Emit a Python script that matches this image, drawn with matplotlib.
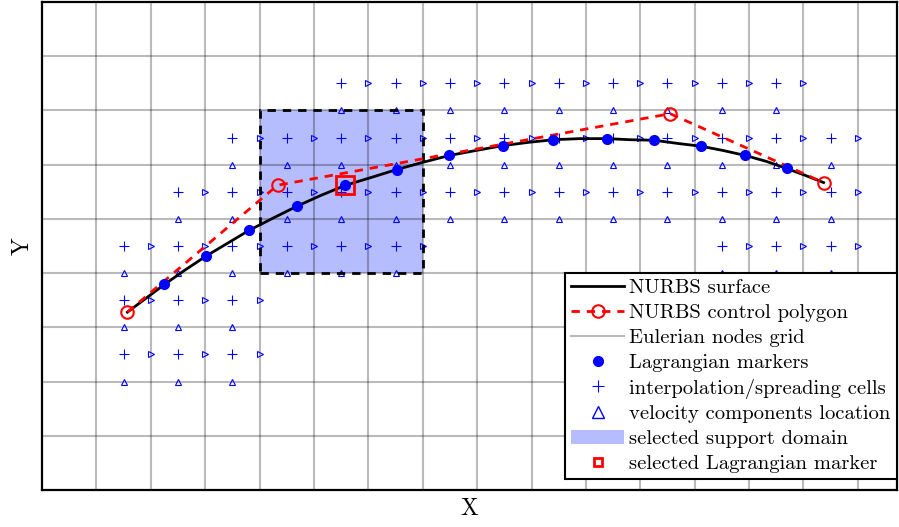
import matplotlib
matplotlib.use('Agg')
import matplotlib.pyplot as plt
from matplotlib.patches import Rectangle
from matplotlib.lines import Line2D
from matplotlib.patches import Patch

plt.rcParams['font.family'] = ['cmr10', 'DejaVu Serif']
plt.rcParams['axes.formatter.use_mathtext'] = True

# NURBS curve (grid units, one cell = 1)
curve_x = [1.57, 2.25, 2.62, 3.01, 3.41, 3.81, 4.24, 4.68, 5.12, 5.58, 6.04, 6.52,
           6.99, 7.49, 7.97, 8.47, 8.93, 9.40, 9.88, 10.38, 10.82, 11.26, 11.70,
           12.12, 12.53, 12.93, 13.32, 13.69, 14.04, 14.37]
curve_y = [3.28, 3.79, 4.05, 4.31, 4.55, 4.79, 5.01, 5.23, 5.43, 5.62, 5.76, 5.91,
           6.04, 6.17, 6.26, 6.35, 6.41, 6.46, 6.48, 6.48, 6.46, 6.45, 6.39,
           6.34, 6.26, 6.17, 6.06, 5.93, 5.80, 5.67]

# control polygon
ctrl_x = [1.57, 4.33, 11.55, 14.37]
ctrl_y = [3.28, 5.62, 6.94, 5.67]

# Lagrangian markers
lag_x = [2.25, 3.01, 3.81, 4.68, 5.58, 6.52, 7.49, 8.47, 9.40, 10.38, 11.26, 12.12, 12.93, 13.69]
lag_y = [3.79, 4.31, 4.79, 5.23, 5.62, 5.91, 6.17, 6.35, 6.46, 6.48, 6.45, 6.34, 6.17, 5.93]
selected = 4

# interpolation/spreading cells: row index -> column indices
cell_rows = {
    7: list(range(5, 14)),
    6: list(range(3, 15)),
    5: list(range(2, 15)),
    4: list(range(1, 7)) + list(range(12, 15)),
    3: list(range(1, 4)),
    2: list(range(1, 4)),
}

# support domain (lower-left cell corner, size in cells)
support = (4, 4, 3, 3)

nx, ny = 15.72, 9

# cell centres, u faces (right) and v faces (bottom)
plus_x, plus_y, u_x, u_y, v_x, v_y = [], [], [], [], [], []
for j, cols in cell_rows.items():
    for i in cols:
        plus_x.append(i + 0.5); plus_y.append(j + 0.5)
        u_x.append(i + 1);      u_y.append(j + 0.5)
        v_x.append(i + 0.5);    v_y.append(j)

fig = plt.figure(figsize=(8.99, 5.27), dpi=100)
ax = fig.add_axes([42 / 899, 37 / 527, 855 / 899, 488 / 527])

ax.set_xlim(0, nx)
ax.set_ylim(0, ny)
ax.set_xticks(range(1, 16))
ax.set_yticks(range(1, 9))
ax.tick_params(length=0, labelbottom=False, labelleft=False)
ax.set_axisbelow('line')
ax.grid(True, color='k', alpha=0.27, lw=1.5)
for s in ax.spines.values():
    s.set_linewidth(1.6)

fill_col = (0.05, 0.15, 1, 0.3)

# support domain
ax.add_patch(Rectangle(support[:2], support[2], support[3], facecolor=fill_col,
                       edgecolor='none', zorder=1))
ax.add_patch(Rectangle(support[:2], support[2], support[3], fill=False, edgecolor='k',
                       lw=2, ls=(0, (3, 2.5)), zorder=3))

ax.plot(plus_x, plus_y, '+', color='b', ms=6.5, mew=0.8, zorder=2)
ax.plot(u_x, u_y, '>', color='b', mfc='none', ms=4, mew=0.8, zorder=2)
ax.plot(v_x, v_y, '^', color='b', mfc='none', ms=4, mew=0.8, zorder=2)

ax.plot(curve_x, curve_y, '-', color='k', lw=2, zorder=4)
ax.plot(ctrl_x, ctrl_y, '--', color='r', lw=2, dashes=(3, 2.5), marker='o', ms=9,
        mfc='none', mew=1.5, zorder=5)
ax.plot(lag_x, lag_y, 'o', color='b', ms=7, zorder=6)
ax.plot(lag_x[selected], lag_y[selected], 's', color='r', mfc='none', ms=12.5, mew=2, zorder=7)

ax.set_xlabel('X', fontsize=17, labelpad=6)
ax.set_ylabel('Y', fontsize=17, labelpad=6)

handles = [
    Line2D([], [], color='k', lw=2),
    Line2D([], [], color='r', lw=2, ls='--', dashes=(3, 2.5), marker='o', ms=9, mfc='none', mew=1.5),
    Line2D([], [], color='k', alpha=0.27, lw=1.5),
    Line2D([], [], ls='none', marker='o', color='b', ms=7),
    Line2D([], [], ls='none', marker='+', color='b', ms=8, mew=0.8),
    Line2D([], [], ls='none', marker='^', color='b', mfc='none', ms=8, mew=1),
    Patch(facecolor=fill_col, edgecolor='none'),
    Line2D([], [], ls='none', marker='s', color='r', mfc='none', ms=6, mew=2),
]
labels = ['NURBS surface', 'NURBS control polygon', 'Eulerian nodes grid',
          'Lagrangian markers', 'interpolation/spreading cells',
          'velocity components location', 'selected support domain',
          'selected Lagrangian marker']
leg = ax.legend(handles, labels, loc='lower right', bbox_to_anchor=(1.0, 0.022),
                fontsize=14.8, fancybox=False, framealpha=1, edgecolor='k',
                borderaxespad=0, borderpad=0.3, labelspacing=0.315,
                handlelength=2.6, handletextpad=0.25)
leg.get_frame().set_linewidth(1.5)
leg.set_zorder(10)

fig.savefig('out.png', dpi=100)
